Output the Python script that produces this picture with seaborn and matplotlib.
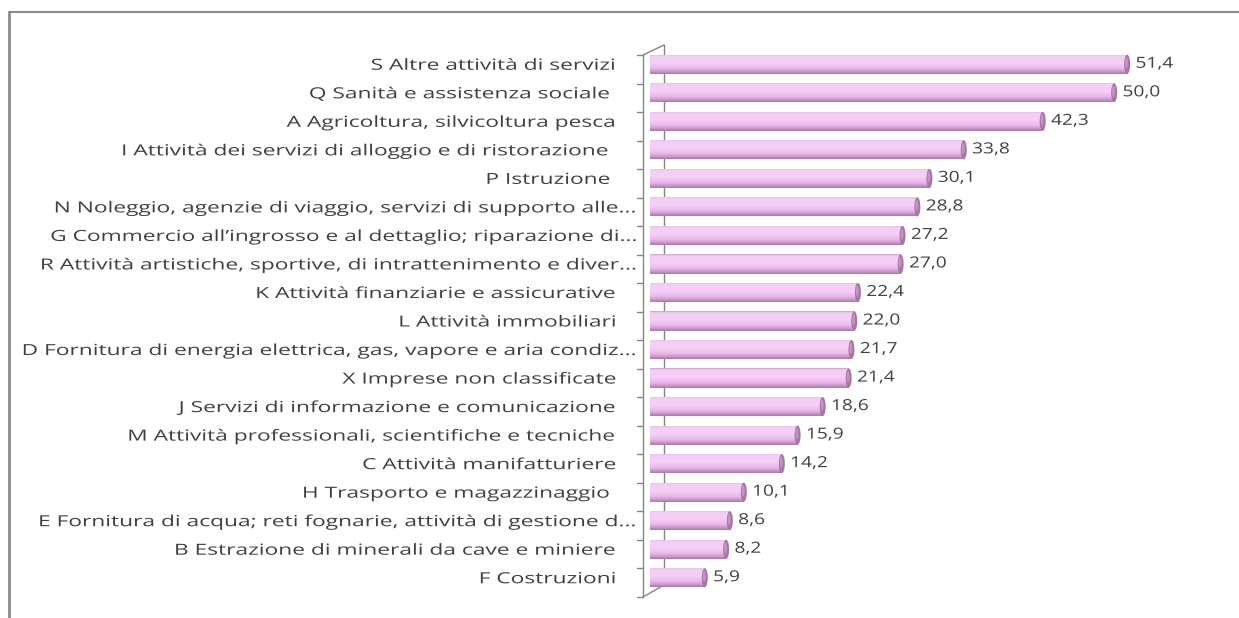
import numpy as np
import pandas as pd
import matplotlib
matplotlib.use("Agg")
import matplotlib.pyplot as plt
import seaborn as sns
from matplotlib.colors import LinearSegmentedColormap
from matplotlib.patches import Ellipse
from matplotlib.lines import Line2D
from matplotlib.patheffects import AbstractPathEffect
import matplotlib.transforms as mtransforms

sectors = [
    "S Altre attività di servizi",
    "Q Sanità e assistenza sociale ",
    "A Agricoltura, silvicoltura pesca",
    "I Attività dei servizi di alloggio e di ristorazione ",
    "P Istruzione ",
    "N Noleggio, agenzie di viaggio, servizi di supporto alle...",
    "G Commercio all’ingrosso e al dettaglio; riparazione di...",
    "R Attività artistiche, sportive, di intrattenimento e diver...",
    "K Attività finanziarie e assicurative",
    "L Attività immobiliari",
    "D Fornitura di energia elettrica, gas, vapore e aria condiz...",
    "X Imprese non classificate",
    "J Servizi di informazione e comunicazione",
    "M Attività professionali, scientifiche e tecniche",
    "C Attività manifatturiere",
    "H Trasporto e magazzinaggio ",
    "E Fornitura di acqua; reti fognarie, attività di gestione d...",
    "B Estrazione di minerali da cave e miniere",
    "F Costruzioni",
]
values = [51.4, 50.0, 42.3, 33.8, 30.1, 28.8, 27.2, 27.0, 22.4, 22.0,
          21.7, 21.4, 18.6, 15.9, 14.2, 10.1, 8.6, 8.2, 5.9]

df = pd.DataFrame({"settore": sectors, "valore": values})


class StretchX(AbstractPathEffect):
    """Widen glyph outlines horizontally around a fixed display x."""

    def __init__(self, sx, x0):
        super().__init__()
        self.sx = sx
        self.x0 = x0

    def draw_path(self, renderer, gc, tpath, affine, rgbFace=None):
        t = affine + mtransforms.Affine2D().translate(-self.x0, 0) \
            .scale(self.sx, 1).translate(self.x0, 0)
        renderer.draw_path(gc, tpath, t, rgbFace)


sns.set_theme(style="white")
plt.rcParams["font.family"] = ["Open Sans", "DejaVu Sans"]

W, H = 1239, 618
fig = plt.figure(figsize=(W / 100, H / 100), dpi=100)
ax = fig.add_axes([650 / W, 1 - 592 / H, (1207 - 650) / W, (592 - 50) / H])

bar_h = 0.67
sns.barplot(data=df, x="valore", y="settore", orient="h", ax=ax,
            color="#f4cbf4", width=bar_h, edgecolor="none", saturation=1)

ax.set_xlim(0, 60)
ax.set_ylim(18.5, -0.5)
ax.set_xlabel("")
ax.set_ylabel("")
ax.set_xticks([])
for s in ax.spines.values():
    s.set_visible(False)

unit_px = (1207 - 650) / 60.0
unit_y_px = (592 - 50) / 19.0
px = lambda p: p / unit_px
py = lambda p: p / unit_y_px

# cylinder shading for each bar
cyl = LinearSegmentedColormap.from_list(
    "cyl", [(0.0, "#c7a0c7"), (0.08, "#f3cdf3"), (0.45, "#f6d0f6"),
            (0.74, "#e9b5e9"), (0.9, "#c594c5"), (1.0, "#a47aa4")])
grad = np.linspace(0, 1, 64).reshape(-1, 1)
cap_w = px(6)
value_texts = []
for patch, v in zip(ax.patches, values):
    x0, y0 = patch.get_x(), patch.get_y()
    w, h = patch.get_width(), patch.get_height()
    im = ax.imshow(grad, cmap=cyl, aspect="auto",
                   extent=(x0, x0 + w, y0 + h, y0), zorder=2,
                   interpolation="bilinear")
    im.set_clip_path(patch)
    ax.add_patch(Ellipse((x0 + w, y0 + h / 2), cap_w, h, facecolor="#a676a6",
                         edgecolor="none", zorder=3))
    ax.add_patch(Ellipse((x0 + w - cap_w * 0.1, y0 + h * 0.42), cap_w * 0.5,
                         h * 0.6, facecolor="#c492c4", edgecolor="none", zorder=3))
    t = ax.text(x0 + w + 0.9, y0 + h / 2, f"{v:.1f}".replace(".", ","),
                va="center", ha="left", fontsize=11, color="#404040", zorder=4)
    value_texts.append(t)

# category labels
ax.tick_params(axis="y", length=0, pad=24, labelsize=11, labelcolor="#404040")
for lab in ax.get_yticklabels():
    if lab.get_text().endswith("..."):
        lab.set_transform(lab.get_transform() +
                          mtransforms.ScaledTranslation(22 / 100, 0, fig.dpi_scale_trans))

# 3D-style wall: front edge with ticks, back edge, perspective corners
front = px(-7)
back = px(14)
dy_front = py(5)
dy_back = py(-5)
line_kw = dict(color="#858585", lw=1.0, clip_on=False, zorder=1)
ax.add_line(Line2D([back, back], [-0.5 + dy_back, 18.5 + dy_back * 1.4], **line_kw))
ax.add_line(Line2D([front, front], [-0.5 + dy_front, 18.5 + dy_front], **line_kw))
ax.add_line(Line2D([front, back], [-0.5 + dy_front, -0.5 + dy_back], **line_kw))
ax.add_line(Line2D([front, back], [18.5 + dy_front, 18.5 + dy_back * 1.4], **line_kw))
for i in range(20):
    yb = i - 0.5 + dy_front
    ax.add_line(Line2D([front - px(6), front], [yb, yb], **line_kw))

# outer frame (top and left edges)
fig.add_artist(Line2D([9 / W, 9 / W], [0, 1 - 12 / H], transform=fig.transFigure,
                      color="#8c8c8c", lw=2.0))
fig.add_artist(Line2D([9 / W, 1], [1 - 12 / H, 1 - 12 / H], transform=fig.transFigure,
                      color="#8c8c8c", lw=1.5))

# widen the lettering to the proportions of the original typeface
fig.canvas.draw()
renderer = fig.canvas.get_renderer()
for lab in ax.get_yticklabels():
    bb = lab.get_window_extent(renderer)
    lab.set_path_effects([StretchX(1.49, bb.x1)])
for t in value_texts:
    bb = t.get_window_extent(renderer)
    t.set_path_effects([StretchX(1.25, bb.x0)])

fig.savefig("out.png", dpi=100, facecolor="white")
